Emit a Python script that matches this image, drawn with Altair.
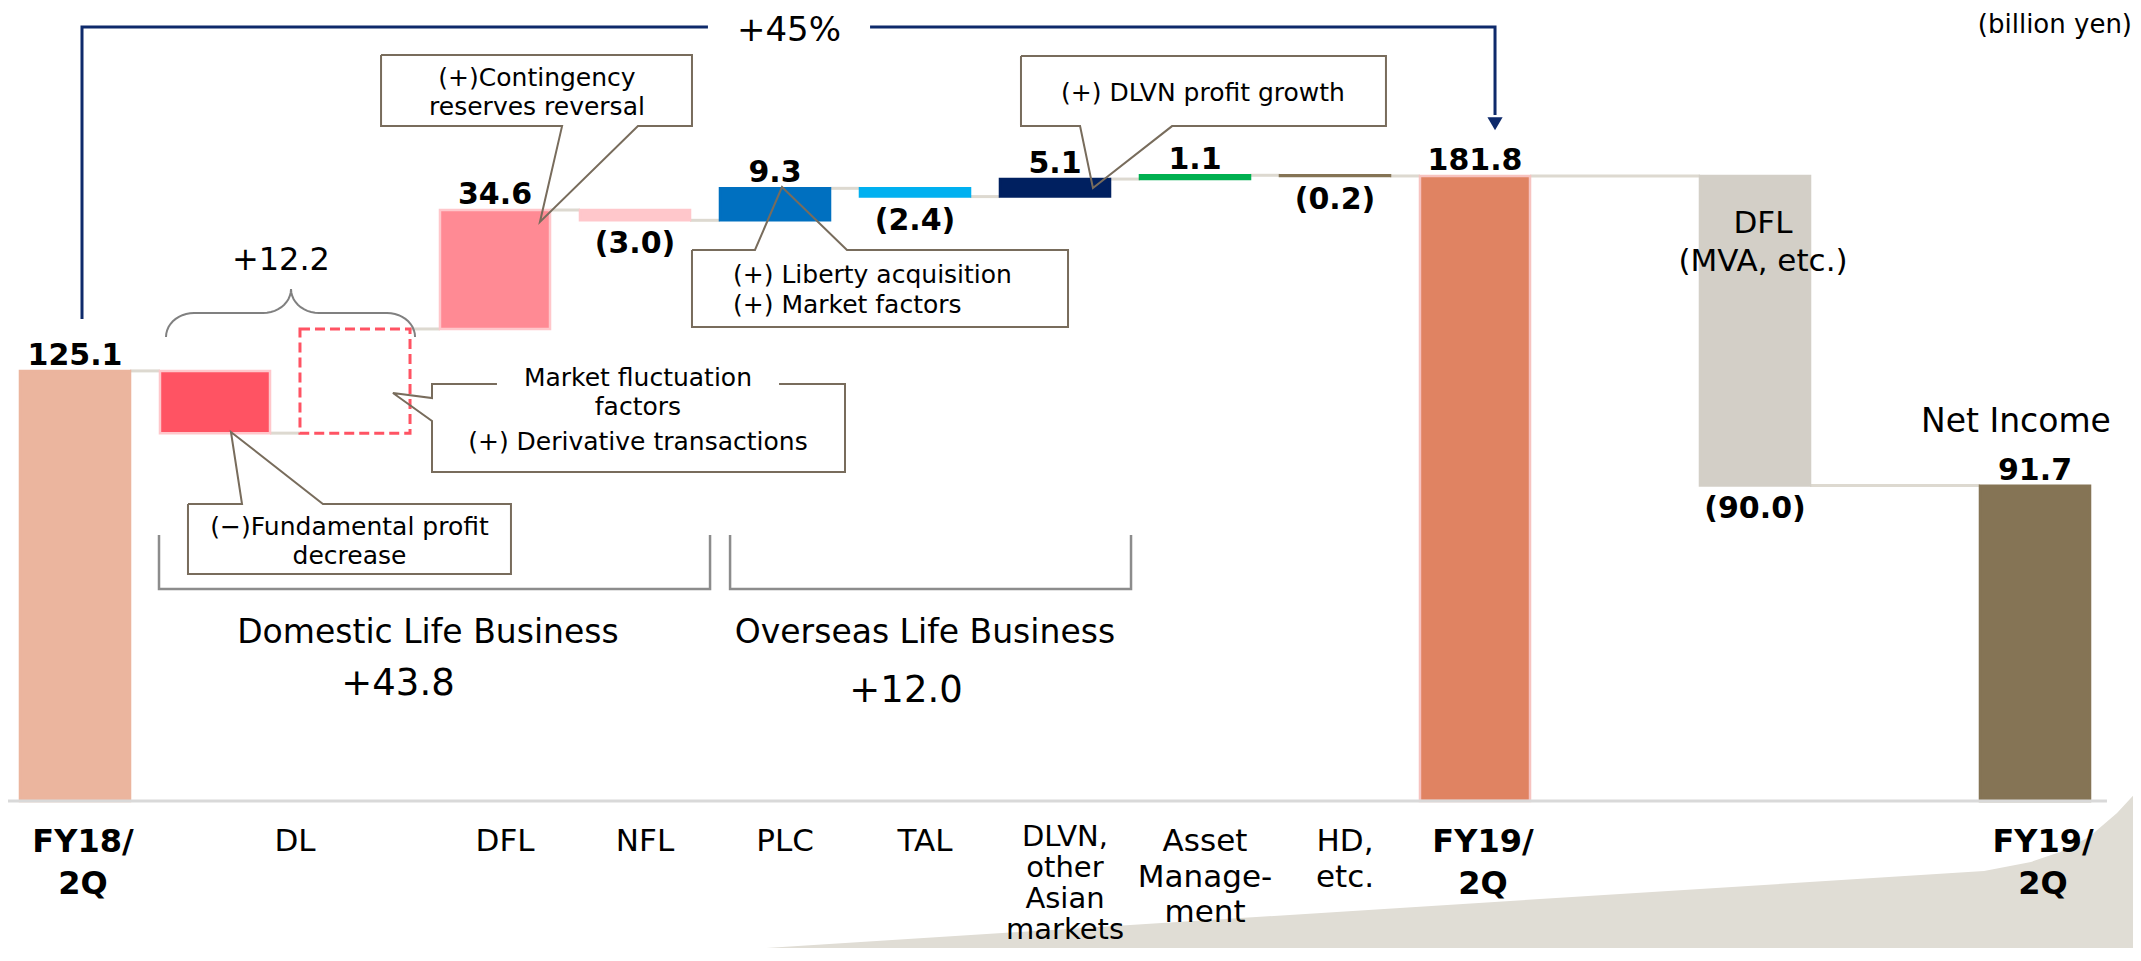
import altair as alt
import pandas as pd
import numpy as np

# ---------------- data (billion yen) ----------------
steps = ["FY18/2Q", "DL fundamental", "DL market", "DFL", "NFL", "PLC", "TAL",
         "DLVN", "Asset Management", "HD, etc.", "FY19/2Q", "gap1",
         "DFL (MVA, etc.)", "gap2", "Net Income"]
values = [125.1, -18.1, 30.3, 34.6, -3.0, 9.3, -2.4, 5.1, 1.1, -0.2, 181.8, None,
          -90.0, None, 91.7]
kinds = ["total", "delta", "delta", "delta", "delta", "delta", "delta", "delta",
         "delta", "delta", "total", None, "delta", None, "total"]
labelled = [True, False, False, True, True, True, True, True, True, True, True,
            False, True, False, True]

category_labels = ["FY18/\n2Q", "DL", "DFL", "NFL", "PLC", "TAL",
                   "DLVN,\nother\nAsian\nmarkets", "Asset\nManage-\nment", "HD,\netc.",
                   "FY19/\n2Q", "FY19/\n2Q"]
category_members = [["FY18/2Q"], ["DL fundamental", "DL market"], ["DFL"], ["NFL"],
                    ["PLC"], ["TAL"], ["DLVN"], ["Asset Management"], ["HD, etc."],
                    ["FY19/2Q"], ["Net Income"]]
category_bold = [True, False, False, False, False, False, False, False, False, True, True]

# ---------------- styles ----------------
fill_colors = {"FY18/2Q": "#EBB59E", "DL fundamental": "#FF5363", "DFL": "#FF8A94",
               "NFL": "#FFC7CB", "PLC": "#0070C0", "TAL": "#00B0F0", "DLVN": "#002060",
               "Asset Management": "#00B050", "HD, etc.": "#857455", "FY19/2Q": "#E08362",
               "DFL (MVA, etc.)": "#D3CFC7", "Net Income": "#857455"}
stroke_colors = {"DL fundamental": "#FFC7CB", "DFL": "#FFC7CB", "FY19/2Q": "#F7C3C0"}
dashed_steps = {"DL market"}
HW = 0.393          # half bar width, in category-slot units
FONT = "DejaVu Sans"
W, H = 2125, 940
xs = alt.Scale(domain=[-0.47857, 14.7], nice=False, zero=False)
ys = alt.Scale(domain=[-42.758, 230.657], nice=False, zero=False)

# ---------------- waterfall geometry from the data ----------------
rows = []
level = 0.0
for i, (s, v, k, lab) in enumerate(zip(steps, values, kinds, labelled)):
    if v is None:
        continue
    if k == "total":
        start, end = 0.0, v
    else:
        start, end = level, level + v
    level = end
    rows.append(dict(step=s, slot=i, start=start, end=end, value=v, kind=k,
                     labelled=lab, x1=i - HW, x2=i + HW,
                     lo=min(start, end), hi=max(start, end)))
bars = pd.DataFrame(rows)
bars["fill"] = bars.step.map(lambda s: fill_colors.get(s, "transparent"))
bars["stroke"] = bars.step.map(lambda s: stroke_colors.get(s, fill_colors.get(s, "transparent")))
solid = bars[~bars.step.isin(dashed_steps)]
dashed = bars[bars.step.isin(dashed_steps)]

conn = pd.DataFrame([dict(x1=a["slot"] + HW, x2=b["slot"] - HW, y=a["end"])
                     for a, b in zip(rows[:-1], rows[1:])])

lab = bars[bars.labelled].copy()
lab["txt"] = lab.value.map(lambda v: f"{v:.1f}" if v >= 0 else f"({-v:.1f})")
above = lab[lab.value >= 0].assign(y=lambda d: d.hi)
below = lab[lab.value < 0].assign(y=lambda d: d.lo)

slot_of = {r["step"]: r["slot"] for r in rows}
cats = pd.DataFrame(dict(
    txt=category_labels,
    x=[float(np.mean([slot_of[m] for m in mem])) for mem in category_members],
    bold=category_bold))
cats["nlines"] = cats.txt.str.count("\n") + 1
cats["y"] = -7.6

# ---------------- annotations (data units: slot, billion yen) ----------------
callouts = {
    "contingency": [(2.186, 216.99), (4.407, 216.99), (4.407, 196.3), (4.021, 196.3),
                    (3.321, 168.41), (3.479, 196.3), (2.186, 196.3), (2.186, 216.99)],
    "liberty": [(4.407, 160.27), (4.857, 160.27), (5.050, 178.59), (5.514, 160.27),
                (7.093, 160.27), (7.093, 137.87), (4.407, 137.87), (4.407, 160.27)],
    "dlvn": [(6.757, 216.70), (9.364, 216.70), (9.364, 196.3), (7.836, 196.3),
             (7.271, 178.30), (7.179, 196.3), (6.757, 196.3), (6.757, 216.70)],
    "market": [(5.029, 121.29), (5.500, 121.29), (5.500, 95.70), (2.550, 95.70),
               (2.550, 110.53), (2.271, 118.67), (2.550, 117.22), (2.550, 121.29),
               (3.014, 121.29)],
    "fundamental": [(0.807, 86.39), (1.193, 86.39), (1.114, 107.33), (1.771, 86.39),
                    (3.114, 86.39), (3.114, 66.03), (0.807, 66.03), (0.807, 86.39)],
}
brackets = {
    "domestic": [(0.600, 77.37), (0.600, 61.66), (4.536, 61.66), (4.536, 77.37)],
    "overseas": [(4.679, 77.37), (4.679, 61.66), (7.543, 61.66), (7.543, 77.37)],
}
growth = {
    "left": [(0.050, 140.20), (0.050, 225.13), (4.521, 225.13)],
    "right": [(5.679, 225.13), (10.143, 225.13), (10.143, 199.5)],
}
arrow = pd.DataFrame(dict(x=[10.143], y=[197.0]))

# curly brace over DL
bx0, bx1, bxa = 0.650, 2.429, 1.543
by_end, by_mid, by_apex = 134.96, 141.94, 148.92
rx, ry = 0.2, by_mid - by_end
t = np.linspace(0, 1, 12)
pts = []
for a in np.pi - t * np.pi / 2:
    pts.append((bx0 + rx + rx * np.cos(a), by_end + ry * np.sin(a)))
for a in -np.pi / 2 + t * np.pi / 2:
    pts.append((bxa - rx + rx * np.cos(a), by_apex + ry * np.sin(a)))
for a in np.pi + t * np.pi / 2:
    pts.append((bxa + rx + rx * np.cos(a), by_apex + ry * np.sin(a)))
for a in np.pi / 2 - t * np.pi / 2:
    pts.append((bx1 - rx + rx * np.cos(a), by_end + ry * np.sin(a)))
brace = {"brace": pts}

deco = pd.DataFrame(dict(x=[3.471, 13.636, 13.971, 14.179, 14.386, 14.586, 14.757, 15.2],
                         y=[-46.54, -20.36, -17.74, -14.83, -10.47, -3.49, 4.07, 40.0]))
deco["y2"] = -60.0

texts = [
    ("(+)Contingency", 3.30, 207.97, 25, "normal", "center"),
    ("reserves reversal", 3.30, 199.53, 25, "normal", "center"),
    ("(+) Liberty acquisition", 4.700, 150.67, 25, "normal", "left"),
    ("(+) Market factors", 4.700, 141.94, 25, "normal", "left"),
    ("(+) DLVN profit growth", 8.057, 203.61, 25, "normal", "center"),
    ("Market fluctuation", 4.021, 120.71, 25, "normal", "center"),
    ("factors", 4.021, 112.27, 25, "normal", "center"),
    ("(+) Derivative transactions", 4.021, 102.09, 25, "normal", "center"),
    ("(\u2212)Fundamental profit", 1.961, 77.37, 25, "normal", "center"),
    ("decrease", 1.961, 68.80, 25, "normal", "center"),
    ("+12.2", 1.471, 154.45, 32, "normal", "center"),
    ("Domestic Life Business", 2.521, 45.96, 33, "normal", "center"),
    ("+43.8", 2.307, 30.83, 37, "normal", "center"),
    ("Overseas Life Business", 6.071, 45.96, 33, "normal", "center"),
    ("+12.0", 5.936, 28.80, 37, "normal", "center"),
    ("+45%", 5.100, 221.06, 34, "normal", "center"),
    ("(billion yen)", 14.693, 223.39, 26, "normal", "right"),
    ("DFL", 12.057, 165.21, 31, "normal", "center"),
    ("(MVA, etc.)", 12.057, 154.16, 31, "normal", "center"),
    ("Net Income", 13.864, 107.33, 33, "normal", "center"),
]
tdf = pd.DataFrame(texts, columns=["txt", "x", "y", "size", "weight", "align"])


def poly_df(d):
    out = []
    for g, p in d.items():
        for j, (x, y) in enumerate(p):
            out.append(dict(g=g, i=j, x=x, y=y))
    return pd.DataFrame(out)


X = lambda f="x": alt.X(f"{f}:Q", scale=xs, axis=None)
Y = lambda f="y": alt.Y(f"{f}:Q", scale=ys, axis=None)

layers = []
# background decoration
layers.append(alt.Chart(deco).mark_area(color="#E0DDD5", orient="vertical").encode(
    x=X(), y=Y(), y2="y2:Q"))
# connectors
layers.append(alt.Chart(conn).mark_rule(color="#DDD9D0", strokeWidth=3).encode(
    x=X("x1"), x2="x2:Q", y=Y()))
# bars
layers.append(alt.Chart(solid).mark_rect(strokeWidth=2.5).encode(
    x=X("x1"), x2="x2:Q", y=Y("lo"), y2="hi:Q",
    fill=alt.Fill("fill:N", scale=None), stroke=alt.Stroke("stroke:N", scale=None)))
layers.append(alt.Chart(dashed).mark_rect(fill="transparent", stroke="#FF5363",
                                          strokeWidth=3, strokeDash=[10, 5]).encode(
    x=X("x1"), x2="x2:Q", y=Y("lo"), y2="hi:Q"))
# baseline
layers.append(alt.Chart(pd.DataFrame(dict(x=[-0.47857], x2=[14.514], y=[0.0]))).mark_rule(
    color="#D9D9D9", strokeWidth=3).encode(x=X(), x2="x2:Q", y=Y()))
# brackets, brace, callouts, growth arrow
for d, col, sw in [(brackets, "#8C8C8C", 2.5), (brace, "#808080", 2),
                   (callouts, "#786C5C", 2), (growth, "#0E2A6B", 3)]:
    layers.append(alt.Chart(poly_df(d)).mark_line(color=col, strokeWidth=sw).encode(
        x=X(), y=Y(), detail="g:N", order=alt.Order("i:Q")))
layers.append(alt.Chart(arrow).mark_point(shape="triangle-down", size=230, filled=True,
                                          color="#0E2A6B", opacity=1).encode(x=X(), y=Y()))
# value labels
layers.append(alt.Chart(above).mark_text(font=FONT, fontWeight="bold", fontSize=30,
                                         baseline="alphabetic", dy=-6, color="black").encode(
    x=X("slot"), y=Y(), text="txt:N"))
layers.append(alt.Chart(below).mark_text(font=FONT, fontWeight="bold", fontSize=30,
                                         baseline="alphabetic", dy=33, color="black").encode(
    x=X("slot"), y=Y(), text="txt:N"))
# category labels
layers.append(alt.Chart(cats[cats.bold]).mark_text(
    font=FONT, fontWeight="bold", fontSize=32, baseline="top", lineBreak="\n",
    lineHeight=42, dx=8, color="black").encode(x=X(), y=Y(), text="txt:N"))
layers.append(alt.Chart(cats[(~cats.bold) & (cats.nlines < 4)]).mark_text(
    font=FONT, fontSize=31, baseline="top", lineBreak="\n",
    lineHeight=35.5, dx=10, color="black").encode(x=X(), y=Y(), text="txt:N"))
layers.append(alt.Chart(cats[(~cats.bold) & (cats.nlines >= 4)]).mark_text(
    font=FONT, fontSize=29, baseline="top", lineBreak="\n",
    lineHeight=31, dx=10, dy=-4, color="black").encode(x=X(), y=Y(), text="txt:N"))
# annotation texts
for (w, a), sub in tdf.groupby(["weight", "align"]):
    layers.append(alt.Chart(sub).mark_text(font=FONT, fontWeight=w, align=a,
                                           baseline="alphabetic", color="black").encode(
        x=X(), y=Y(), text="txt:N", size=alt.Size("size:Q", scale=None)))

chart = alt.layer(*layers).properties(
    width=W, height=H, padding=0, autosize=alt.AutoSizeParams(type="none")
).configure_view(stroke=None)

chart.save("out.html", embed_options={"renderer": "svg", "actions": False})
